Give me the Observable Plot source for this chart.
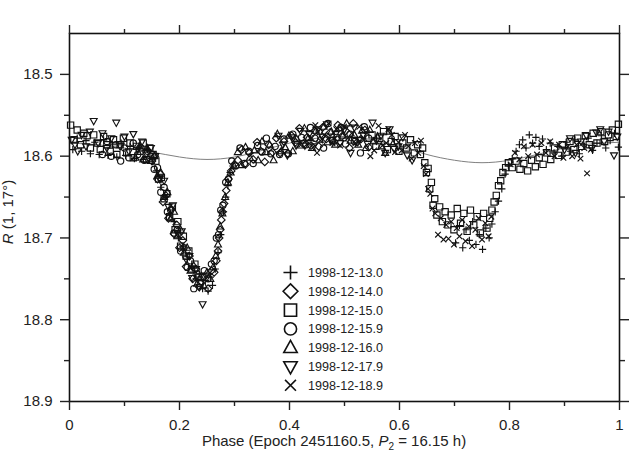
<!DOCTYPE html>
<html><head><meta charset="utf-8">
<script src="https://cdn.jsdelivr.net/npm/d3@7"></script>
<script src="https://cdn.jsdelivr.net/npm/@observablehq/plot@0.6"></script>
<style>
html,body{margin:0;padding:0;background:#fff;}
#chart{position:relative;width:631px;height:452px;}
svg{display:block;}
</style></head><body><div id="chart"></div>
<script>
// ---- data ----
const nights = ["1998-12-13.0","1998-12-14.0","1998-12-15.0","1998-12-15.9","1998-12-16.0","1998-12-17.9","1998-12-18.9"];

const d13 = [[0.702,18.706],[0.709,18.685],[0.715,18.712],[0.721,18.690],[0.727,18.703],[0.733,18.680],[0.739,18.708],[0.745,18.696],[0.751,18.714],[0.757,18.688],[0.763,18.700],[0.768,18.683],[0.774,18.668],[0.780,18.655],[0.786,18.640],[0.792,18.622],[0.798,18.612],[0.805,18.603],
[0.812,18.594],[0.818,18.586],[0.824,18.580],[0.830,18.590],[0.836,18.574],[0.842,18.584],[0.848,18.577],[0.854,18.588],[0.860,18.579],[0.867,18.592],[0.874,18.584],[0.881,18.596],[0.888,18.588],[0.895,18.600],[0.903,18.583],[0.911,18.594],[0.919,18.580],[0.927,18.597],[0.935,18.586],[0.943,18.578],[0.951,18.593],[0.959,18.584],[0.967,18.575],[0.975,18.590],[0.983,18.581],[0.991,18.572],[0.998,18.589],
[0.006,18.592],[0.014,18.578],[0.022,18.594],[0.030,18.581],[0.038,18.597],[0.046,18.583],[0.054,18.598],[0.062,18.580],[0.070,18.599],[0.078,18.586],[0.086,18.601],[0.094,18.584],[0.102,18.599],[0.110,18.588],[0.118,18.603],[0.126,18.590],[0.134,18.604],[0.142,18.592],[0.150,18.606],[0.158,18.618],[0.166,18.638],[0.174,18.650],[0.182,18.672],[0.190,18.680],[0.198,18.700],[0.206,18.710],[0.214,18.726],[0.222,18.735],[0.230,18.750],[0.236,18.744],[0.242,18.762],[0.247,18.752],[0.252,18.765],[0.256,18.748],[0.260,18.758],[0.265,18.738],[0.270,18.718],[0.275,18.696],[0.280,18.668],[0.284,18.650],[0.288,18.636],[0.292,18.620],[0.297,18.612]];

const d14 = [[0.150,18.606],[0.155,18.600],[0.160,18.628],[0.165,18.622],[0.170,18.656],[0.175,18.648],[0.180,18.676],[0.185,18.665],[0.190,18.695],[0.195,18.684],[0.200,18.712],[0.206,18.703],[0.212,18.735],[0.218,18.722],[0.224,18.750],[0.230,18.738],[0.236,18.760],[0.244,18.748],[0.252,18.762],[0.258,18.740],[0.263,18.742],[0.267,18.728],[0.270,18.716],[0.272,18.700],[0.274,18.690],[0.276,18.678],[0.278,18.668],[0.281,18.658],[0.285,18.642],[0.289,18.628],[0.294,18.618],[0.300,18.610],
[0.306,18.605],[0.313,18.592],[0.320,18.610],[0.327,18.596],[0.334,18.604],[0.341,18.583],[0.348,18.594],[0.355,18.607],[0.362,18.586],[0.369,18.595],[0.376,18.578],[0.383,18.596],[0.390,18.582],[0.397,18.597],[0.404,18.575],[0.411,18.583],[0.418,18.566],[0.425,18.585],[0.432,18.577],[0.439,18.587],[0.446,18.569],[0.453,18.588],[0.460,18.565],[0.467,18.579],[0.474,18.571],[0.481,18.582],[0.488,18.562],[0.495,18.576],[0.502,18.569],[0.509,18.590],[0.516,18.560],[0.523,18.583],[0.530,18.579],[0.537,18.568],[0.544,18.589]];

const d15 = [[0.550,18.574],[0.557,18.588],[0.564,18.578],[0.571,18.570],[0.578,18.592],[0.585,18.582],[0.592,18.576],[0.599,18.594],[0.606,18.584],[0.613,18.590],[0.620,18.580],[0.627,18.596],[0.633,18.586],[0.638,18.598],[0.642,18.590],[0.646,18.608],[0.649,18.620],[0.652,18.615],[0.655,18.640],[0.658,18.632],[0.661,18.660],[0.664,18.652],[0.668,18.672],[0.673,18.662],[0.678,18.680],[0.683,18.668],[0.688,18.684],[0.694,18.672],[0.699,18.690],[0.705,18.664],[0.711,18.682],[0.717,18.670],[0.723,18.692],[0.729,18.666],[0.735,18.684],[0.741,18.674],[0.747,18.694],[0.753,18.670],[0.759,18.688],[0.764,18.676],[0.768,18.666],[0.772,18.656],[0.776,18.648],[0.780,18.636],[0.784,18.630],[0.788,18.620],[0.793,18.614],[0.798,18.608],[0.805,18.614],[0.812,18.606],[0.819,18.616],[0.826,18.609],[0.833,18.618],[0.840,18.605],[0.847,18.613],[0.854,18.602],[0.861,18.610],[0.868,18.596],[0.875,18.604],[0.882,18.590],[0.889,18.599],[0.896,18.586],[0.903,18.595],[0.910,18.582],[0.917,18.592],[0.924,18.578],[0.931,18.588],[0.938,18.575],[0.945,18.586],[0.952,18.572],[0.959,18.584],[0.966,18.570],[0.973,18.582],[0.980,18.574],[0.987,18.568],[0.994,18.576],[0.998,18.561],
[0.002,18.562],[0.008,18.580],[0.014,18.568],[0.020,18.586],[0.026,18.572],[0.032,18.575],[0.038,18.590],[0.044,18.574],[0.050,18.584],[0.056,18.592],[0.062,18.576],[0.068,18.586],[0.074,18.594],[0.080,18.580],[0.086,18.598],[0.092,18.586],[0.098,18.578],[0.104,18.596],[0.110,18.584],[0.116,18.602],[0.122,18.588],[0.128,18.594],[0.134,18.584],[0.140,18.604],[0.146,18.590],[0.152,18.598],[0.157,18.606],[0.162,18.628],[0.167,18.626],[0.172,18.652],[0.177,18.646],[0.182,18.674],[0.187,18.662],[0.192,18.690],[0.197,18.680],[0.202,18.710],[0.207,18.698],[0.212,18.722],[0.217,18.716],[0.222,18.738],[0.228,18.732],[0.234,18.748]];

const d159 = [[0.060,18.598],[0.068,18.582],[0.076,18.600],[0.084,18.586],[0.093,18.606],[0.100,18.590],[0.108,18.602],[0.116,18.584],[0.124,18.598],[0.130,18.590],[0.136,18.605],[0.142,18.594],[0.148,18.600],[0.154,18.616],[0.160,18.614],[0.166,18.644],[0.172,18.638],[0.178,18.668],[0.184,18.666],[0.190,18.694],[0.196,18.690],[0.202,18.716],[0.208,18.712],[0.214,18.736],[0.220,18.728],[0.226,18.762],[0.232,18.744],[0.238,18.756],[0.245,18.740],[0.252,18.750],[0.258,18.732],[0.263,18.728],[0.267,18.700],[0.271,18.696],[0.275,18.666],[0.279,18.660],[0.284,18.632],[0.289,18.628],[0.295,18.606],[0.302,18.612],
[0.310,18.590],[0.318,18.609],[0.326,18.594],[0.334,18.609],[0.342,18.587],[0.350,18.595],[0.358,18.578],[0.366,18.597],[0.374,18.588],[0.382,18.598],[0.390,18.579],[0.398,18.597],[0.406,18.573],[0.414,18.585],[0.422,18.577],[0.430,18.586],[0.438,18.565],[0.446,18.578],[0.454,18.570],[0.462,18.590],[0.470,18.560],[0.478,18.581],[0.486,18.577],[0.494,18.565],[0.502,18.585],[0.510,18.573],[0.518,18.582],[0.529,18.596],[0.536,18.564],[0.544,18.578]];

const d16 = [[0.120,18.602],[0.127,18.588],[0.134,18.604],[0.141,18.590],[0.148,18.606],[0.154,18.600],[0.160,18.624],[0.166,18.620],[0.172,18.650],[0.178,18.644],[0.184,18.676],[0.190,18.668],[0.196,18.698],[0.202,18.690],[0.208,18.718],[0.214,18.712],[0.220,18.740],[0.226,18.734],[0.232,18.756],[0.238,18.748],[0.244,18.758],[0.250,18.742],[0.256,18.750],[0.261,18.736],[0.266,18.722],[0.270,18.708],[0.274,18.686],[0.278,18.670],[0.283,18.650],[0.288,18.632],[0.293,18.620],[0.299,18.612],
[0.306,18.595],[0.313,18.611],[0.320,18.589],[0.328,18.602],[0.336,18.593],[0.343,18.605],[0.350,18.582],[0.357,18.595],[0.364,18.586],[0.371,18.605],[0.378,18.573],[0.385,18.594],[0.392,18.589],[0.399,18.575],[0.406,18.594],[0.413,18.579],[0.420,18.587],[0.427,18.566],[0.434,18.578],[0.441,18.590],[0.448,18.569],[0.455,18.580],[0.462,18.564],[0.469,18.583],[0.476,18.570],[0.483,18.586],[0.490,18.566],[0.497,18.575],[0.504,18.560],[0.511,18.581],[0.518,18.574],[0.525,18.586],[0.532,18.569],[0.539,18.590],[0.546,18.568],[0.553,18.582],[0.560,18.576],[0.567,18.588],[0.574,18.596],[0.581,18.570],[0.588,18.585]];

const d179 = [[0.900,18.592],[0.910,18.578],[0.920,18.596],[0.930,18.582],[0.940,18.575],[0.950,18.590],[0.958,18.571],[0.965,18.567],[0.972,18.582],[0.980,18.570],[0.990,18.599],[0.996,18.576],
[0.004,18.580],[0.010,18.586],[0.015,18.594],[0.022,18.574],[0.030,18.588],[0.037,18.570],[0.044,18.557],[0.052,18.584],[0.060,18.572],[0.068,18.590],[0.076,18.578],[0.085,18.559],[0.092,18.588],[0.100,18.576],[0.108,18.594],[0.116,18.573],[0.124,18.592],[0.132,18.582],[0.140,18.598],[0.148,18.590],[0.156,18.600],[0.164,18.628],[0.172,18.630],[0.180,18.662],[0.188,18.660],[0.196,18.694],[0.204,18.692],[0.212,18.726],[0.218,18.722],[0.223,18.749],[0.230,18.738],[0.236,18.760],[0.242,18.781],[0.248,18.746],
[0.380,18.575],[0.388,18.586],[0.396,18.599],[0.404,18.577],[0.412,18.587],[0.420,18.569],[0.428,18.587],[0.436,18.573],[0.444,18.588],[0.452,18.567],[0.460,18.576],[0.468,18.561],[0.476,18.580],[0.484,18.573],[0.492,18.584],[0.500,18.567],[0.511,18.596],[0.518,18.565],[0.526,18.580],[0.534,18.574],[0.542,18.585],[0.551,18.559],[0.558,18.581],[0.566,18.575],[0.574,18.596],[0.582,18.567],[0.590,18.591],[0.598,18.588],[0.606,18.577],[0.614,18.599],[0.623,18.605]];

const d189 = [[0.440,18.578],[0.447,18.562],[0.450,18.596],[0.456,18.581],[0.463,18.574],[0.471,18.560],[0.478,18.584],[0.485,18.567],[0.492,18.587],[0.499,18.564],[0.506,18.578],[0.513,18.572],[0.520,18.584],[0.527,18.564],[0.534,18.579],[0.541,18.572],[0.547,18.600],[0.554,18.593],[0.562,18.563],[0.569,18.587],[0.576,18.584],[0.580,18.567],[0.586,18.574],[0.592,18.595],[0.598,18.583],[0.604,18.593],[0.610,18.574],[0.616,18.588],[0.622,18.603],[0.628,18.584],[0.634,18.596],[0.639,18.581],
[0.644,18.612],[0.648,18.622],[0.652,18.640],[0.656,18.646],[0.660,18.664],[0.665,18.670],
[0.670,18.696],[0.675,18.676],[0.680,18.702],[0.685,18.684],[0.689,18.701],[0.694,18.680],[0.699,18.708],[0.704,18.688],[0.709,18.698],[0.714,18.678],[0.720,18.704],[0.726,18.686],[0.732,18.710],[0.738,18.690],[0.744,18.676],[0.750,18.702],[0.756,18.682],[0.762,18.698],[0.767,18.674],
[0.802,18.610],[0.810,18.596],[0.818,18.604],[0.826,18.588],[0.834,18.600],[0.842,18.586],[0.850,18.598],[0.858,18.584],[0.866,18.596],[0.874,18.582],[0.882,18.600],[0.890,18.586],[0.898,18.602],[0.906,18.588],[0.914,18.600],[0.922,18.586],[0.929,18.603],[0.936,18.590],[0.941,18.621],[0.948,18.592]];

const modelPhase = [0,0.05,0.10,0.15,0.20,0.25,0.30,0.35,0.40,0.45,0.50,0.55,0.60,0.65,0.70,0.75,0.80,0.85,0.90,0.95,1.00];
const modelMag   = [18.584,18.586,18.590,18.595,18.601,18.604,18.601,18.593,18.584,18.578,18.576,18.580,18.588,18.598,18.605,18.608,18.605,18.598,18.590,18.585,18.583];

const xTicks = [0,0.2,0.4,0.6,0.8,1];
const xMinor = [0.1,0.3,0.5,0.7,0.9];
const yTicks = [18.5,18.6,18.7,18.8,18.9];
const yMinor = [18.55,18.65,18.75,18.85];

// ---- symbols ----
function sym(f){ return {draw(ctx,size){ const r=Math.sqrt(size/Math.PI); f(ctx,r); }}; }
const plusS = sym((c,r)=>{const k=1.1*r; c.moveTo(-k,0); c.lineTo(k,0); c.moveTo(0,-k); c.lineTo(0,k);});
const diamondS = sym((c,r)=>{const k=1.15*r; c.moveTo(0,-k); c.lineTo(k,0); c.lineTo(0,k); c.lineTo(-k,0); c.closePath();});
const squareS = sym((c,r)=>{const k=0.95*r; c.moveTo(-k,-k); c.lineTo(k,-k); c.lineTo(k,k); c.lineTo(-k,k); c.closePath();});
const circleS = sym((c,r)=>{const k=0.95*r; c.moveTo(k,0); c.arc(0,0,k,0,2*Math.PI);});
const triUpS = sym((c,r)=>{c.moveTo(0,-1.15*r); c.lineTo(1.05*r,0.75*r); c.lineTo(-1.05*r,0.75*r); c.closePath();});
const triDownS = sym((c,r)=>{c.moveTo(0,1.15*r); c.lineTo(1.05*r,-0.75*r); c.lineTo(-1.05*r,-0.75*r); c.closePath();});
const timesS = sym((c,r)=>{const k=0.85*r; c.moveTo(-k,-k); c.lineTo(k,k); c.moveTo(k,-k); c.lineTo(-k,k);});
const shapes = [plusS,diamondS,squareS,circleS,triUpS,triDownS,timesS];
const series = [d13,d14,d15,d159,d16,d179,d189];

const model = modelPhase.map((p,i)=>({p, m: modelMag[i]}));

const W=631, H=452, mL=69, mR=12, mT=33, mB=51;
const FONT = "'Liberation Sans', Arial, Helvetica, sans-serif";
const ink = "#222";

const plot = Plot.plot({
  width:W, height:H, marginLeft:mL, marginRight:mR, marginTop:mT, marginBottom:mB,
  x:{domain:[0,1]},
  y:{domain:[18.45,18.9], reverse:true},
  style:{fontFamily:FONT, color:ink, background:"white", overflow:"visible"},
  marks:[
    Plot.line(model,{x:"p", y:"m", curve:"natural", stroke:"#808080", strokeWidth:1}),
    ...series.map((s,i)=>Plot.dot(s,{x:d=>d[0], y:d=>d[1], symbol:shapes[i], r:3.3, stroke:"#111", fill:"none", strokeWidth:1.15})),
    Plot.frame({stroke:"#111", strokeWidth:1.6}),
    Plot.axisX(xTicks,{anchor:"bottom", tickSize:9, tickPadding:9, fontSize:15, tickFormat:d=>String(d), label:null, strokeWidth:1.4}),
    Plot.axisX(xMinor,{anchor:"bottom", tickSize:5, tickFormat:()=>"", label:null, strokeWidth:1.4}),
    Plot.axisX(xTicks,{anchor:"top", tickSize:9, tickFormat:()=>"", label:null, strokeWidth:1.4}),
    Plot.axisX(xMinor,{anchor:"top", tickSize:5, tickFormat:()=>"", label:null, strokeWidth:1.4}),
    Plot.axisY(yTicks,{anchor:"left", tickSize:9, tickPadding:8, fontSize:15, tickFormat:d3.format(".1f"), label:null, strokeWidth:1.4}),
    Plot.axisY(yMinor,{anchor:"left", tickSize:5, tickFormat:()=>"", label:null, strokeWidth:1.4}),
    Plot.axisY(yTicks,{anchor:"right", tickSize:9, tickFormat:()=>"", label:null, strokeWidth:1.4}),
    Plot.axisY(yMinor,{anchor:"right", tickSize:5, tickFormat:()=>"", label:null, strokeWidth:1.4})
  ]
});
document.getElementById("chart").appendChild(plot);

// ---- axis titles ----
const svg = d3.select(plot);
const xl = svg.append("text").attr("x", (mL + W - mR)/2 - 10).attr("y", H - 6)
  .attr("text-anchor","middle").attr("font-size",15).attr("fill",ink).attr("font-family",FONT);
xl.append("tspan").text("Phase (Epoch 2451160.5, ");
xl.append("tspan").attr("font-style","italic").text("P");
xl.append("tspan").attr("font-size",10).attr("dy",4).text("2");
xl.append("tspan").attr("dy",-4).text(" = 16.15 h)");

const yl = svg.append("text").attr("transform",`translate(13,${(mT + H - mB)/2 - 5}) rotate(-90)`)
  .attr("text-anchor","middle").attr("font-size",15).attr("fill",ink).attr("font-family",FONT);
yl.append("tspan").attr("font-style","italic").text("R");
yl.append("tspan").text(" (1, 17°)");

// ---- legend ----
const lg = svg.append("g").attr("transform","translate(290.5,272.5)");
nights.forEach((n,i)=>{
  const g = lg.append("g").attr("transform",`translate(0,${i*18.8})`);
  const r = 6.4;
  const size = Math.PI*r*r;
  g.append("path").attr("d", d3.symbol(shapes[i], size)()).attr("fill","none").attr("stroke","#111").attr("stroke-width",1.6);
  g.append("text").attr("x",17.5).attr("dy","0.35em").attr("text-anchor","start")
    .attr("font-size",12.6).attr("fill",ink).attr("font-family",FONT).text(n);
});
</script></body></html>
